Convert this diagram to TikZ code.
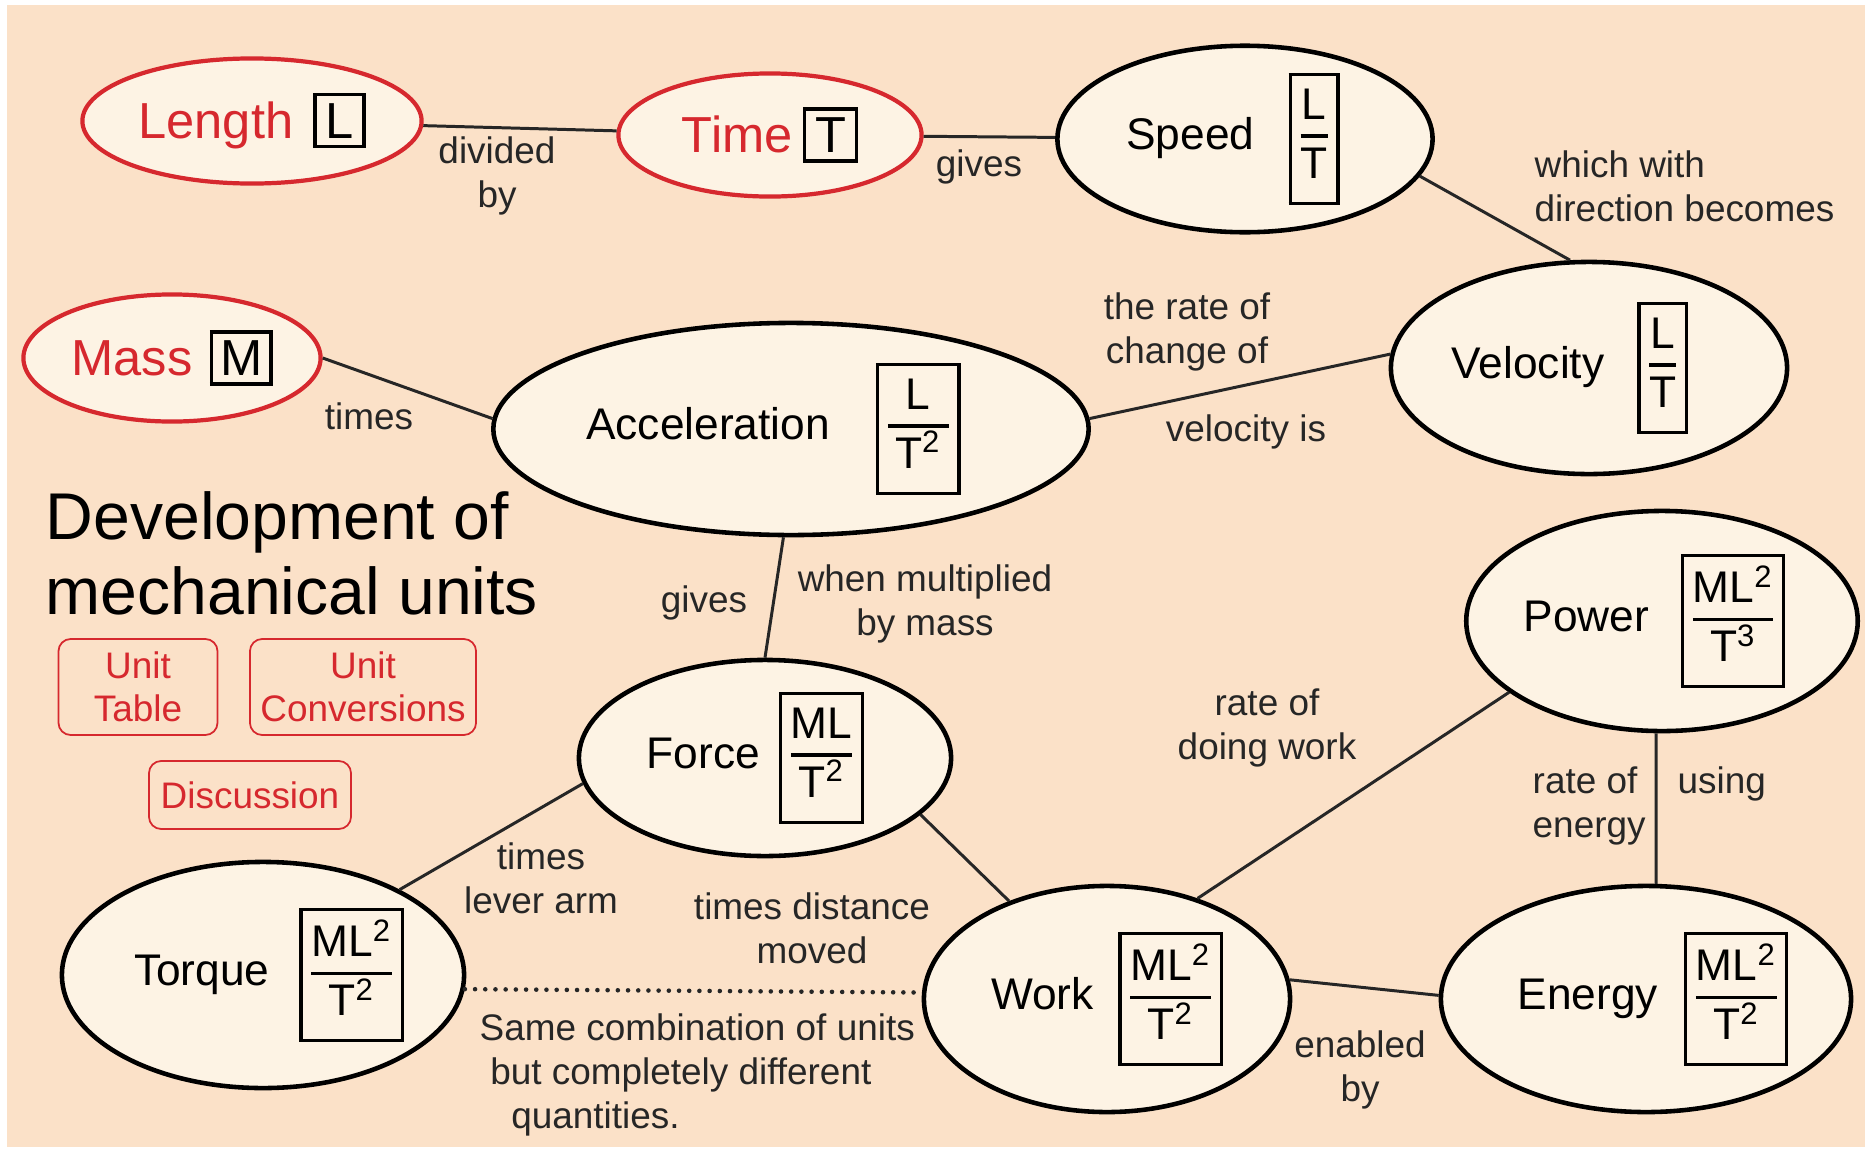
\documentclass[tikz,border=0pt]{standalone}
\usepackage{fontspec}
\setmainfont{Liberation Sans}
\usetikzlibrary{shapes.geometric,positioning}
\definecolor{hatter}{RGB}{251,225,200}
\definecolor{belso}{RGB}{253,243,228}
\definecolor{piros}{RGB}{214,40,46}
\newcommand{\egyseg}[1]{{\color{black}\setlength{\fboxsep}{2pt}\setlength{\fboxrule}{0.9pt}\fbox{#1}}}
\newcommand{\tort}[2]{{\setlength{\fboxsep}{2.5pt}\setlength{\fboxrule}{0.9pt}%
  \setlength{\arrayrulewidth}{1pt}%
  \fbox{\begin{tabular}{@{}c@{}}#1\\\hline\rule{0pt}{11.5pt}#2\end{tabular}}}}
\tikzset{
  alap/.style={ellipse,draw=piros,line width=1.2pt,fill=belso,inner sep=0pt,text=piros,
    font=\fontsize{14.4}{16}\selectfont},
  fogalom/.style={ellipse,draw=black,line width=1.3pt,fill=belso,inner sep=0pt,
    font=\fontsize{12.6}{14}\selectfont},
  kapcs/.style={draw=black!85,line width=0.85pt},
  felirat/.style={align=center,inner sep=0pt,text=black!85,font=\fontsize{10.5}{12.5}\selectfont},
  gomb/.style={draw=piros,rounded corners=3.5pt,line width=0.5pt,text=piros,align=center,
    inner sep=0pt,font=\fontsize{10.5}{12.2}\selectfont},
}

\begin{document}
\begin{tikzpicture}[x=0.01cm,y=-0.01cm]
  \useasboundingbox (0,0) rectangle (1865,1151);
  \fill[white] (0,0) rectangle (1865,1151);
  \fill[hatter] (7,5) rectangle (1865,1147);

  \node[alap,minimum width=3.39cm,minimum height=1.25cm] (hossz) at (252,121) {Length\hspace{5.7pt}\egyseg{\hspace{0.5pt}L\hspace{0.5pt}}};
  \node[alap,minimum width=3.03cm,minimum height=1.23cm] (ido) at (770,135) {Time\hspace{3pt}\egyseg{\hspace{0.5pt}T\hspace{0.5pt}}};
  \node[alap,minimum width=2.97cm,minimum height=1.27cm] (tomeg) at (172,358) {Mass\hspace{5pt}\egyseg{M}};
  \node[fogalom,minimum width=3.75cm,minimum height=1.72cm] (sebesseg) at (1245,139) {Speed\hspace{9.7pt}\tort{L}{T}\hspace*{6.8pt}};
  \node[fogalom,minimum width=3.96cm,minimum height=2.12cm] (sebvektor) at (1589,368) {Velocity\hspace{9.4pt}\tort{L}{T}\hspace*{10.8pt}};
  \node[fogalom,minimum width=5.95cm,minimum height=2.12cm] (gyorsulas) at (791,429) {Acceleration\hspace{13pt}\tort{\,L\,}{\,T\textsuperscript{2}\,}\hspace*{10pt}};
  \node[fogalom,minimum width=3.72cm,minimum height=1.96cm] (ero) at (765,758) {Force\hspace{5.4pt}\tort{ML}{T\textsuperscript{2}}\hspace*{5.4pt}};
  \node[fogalom,minimum width=3.82cm,minimum height=2.20cm] (telj) at (1662,621) {Power\hspace{9pt}\tort{ML\textsuperscript{2}}{T\textsuperscript{3}}\hspace*{4.3pt}};
  \node[fogalom,minimum width=4.02cm,minimum height=2.26cm] (nyomatek) at (263,975) {\hspace*{3.4pt}Torque\hspace{8.5pt}\tort{ML\textsuperscript{2}}{T\textsuperscript{2}}};
  \node[fogalom,minimum width=3.66cm,minimum height=2.26cm] (munka) at (1107,999) {Work\hspace{7pt}\tort{ML\textsuperscript{2}}{T\textsuperscript{2}}};
  \node[fogalom,minimum width=4.10cm,minimum height=2.26cm] (energia) at (1646,999) {\hspace*{4pt}Energy\hspace{7.4pt}\tort{ML\textsuperscript{2}}{T\textsuperscript{2}}};

  \draw[kapcs] (hossz) -- (ido);
  \draw[kapcs] (ido) -- (sebesseg);
  \draw[kapcs] (sebesseg.-12) -- (sebvektor.100);
  \draw[kapcs] (tomeg.0) -- (gyorsulas.178);
  \draw[kapcs] (gyorsulas.2.5) -- (sebvektor.176);
  \draw[kapcs] (gyorsulas.-94.5) -- (ero.90);
  \draw[kapcs] (ero.188.5) -- (nyomatek.32);
  \draw[kapcs] (ero.-20.7) -- (munka.135);
  \draw[kapcs] (munka.48.5) -- (telj.205.5);
  \draw[kapcs] (telj.-93.7) -- (energia.85.8);
  \draw[kapcs] (munka.6.7) -- (energia.179.3);
  \draw[kapcs,line width=1.3pt,line cap=round,dash pattern=on 0pt off 2.9pt] (nyomatek.-4.9) -- (munka.178.2);

  \node[felirat] (oszt) at (497,176) {divided\\by};
  \node[felirat] (ad1) at (979,167) {gives};
  \node[felirat,align=left,anchor=west] (irany) at (1534,186) {which with\\direction becomes};
  \node[felirat] (valt) at (1187,332) {the rate of\\change of};
  \node[felirat] (vis) at (1246,432) {velocity is};
  \node[felirat] (szor) at (369,416) {times};
  \node[felirat] (ad2) at (704,603) {gives};
  \node[felirat] (tomegszer) at (925,604) {when multiplied\\by mass};
  \node[felirat] (kar) at (541,878) {times\\lever arm};
  \node[felirat] (ut) at (812,928) {times distance\\moved};
  \node[felirat,align=left,anchor=west] (azonos) at (479,1075)
    {Same combination of units\\\hspace*{3pt}but completely different\\\hspace*{9pt}quantities.};
  \node[felirat] (munkaseb) at (1267,728) {rate of\\doing work};
  \node[felirat,align=left,anchor=west] (energiaseb) at (1532,806) {rate of\\energy};
  \node[felirat,anchor=west] (hasznal) at (1677,784) {using};
  \node[felirat] (altal) at (1360,1070) {enabled\\by};

  \node[align=left,anchor=west,inner sep=0pt,font=\fontsize{18.8}{21.4}\selectfont] (cim) at (45,553)
    {Development of\\mechanical units};
  \node[gomb,minimum width=1.59cm,minimum height=0.96cm] (tabla) at (138,687) {Unit\\Table};
  \node[gomb,minimum width=2.26cm,minimum height=0.96cm] (atvalt) at (363,687) {Unit\\Conversions};
  \node[gomb,minimum width=2.02cm,minimum height=0.68cm] (vita) at (250,795) {Discussion};
\end{tikzpicture}
\end{document}
